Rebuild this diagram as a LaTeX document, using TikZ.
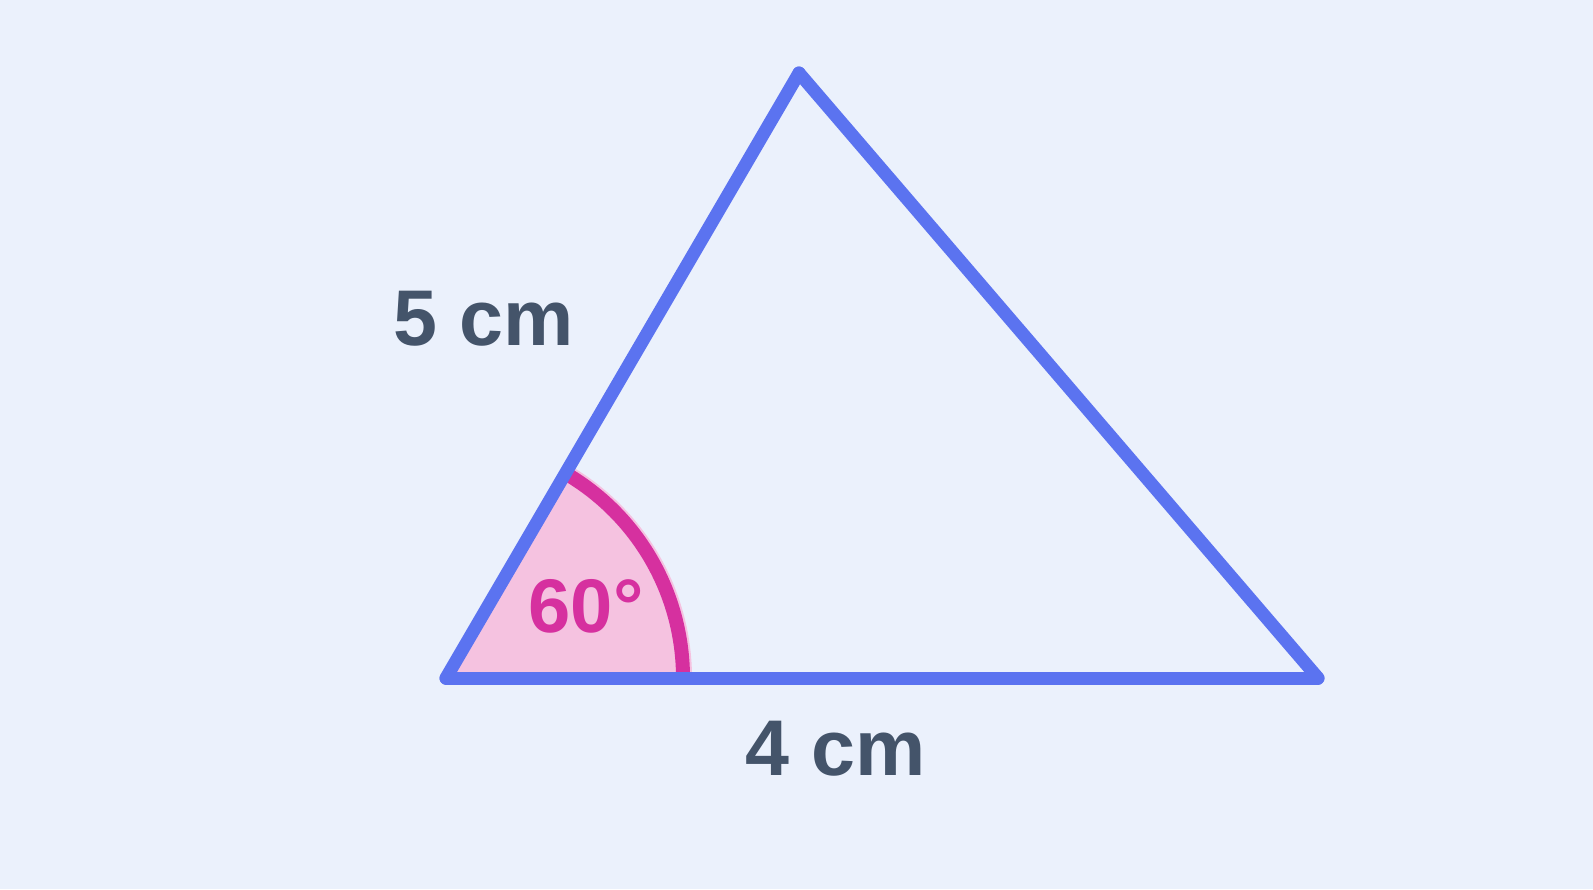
\documentclass[tikz,border=0pt]{standalone}
\usepackage{fontspec}
\setmainfont{Liberation Sans}
\usetikzlibrary{calc}
\definecolor{bg}{HTML}{EBF1FC}
\definecolor{tri}{HTML}{5B73F0}
\definecolor{mag}{HTML}{D6309F}
\definecolor{pinkf}{HTML}{F5C2E0}
\definecolor{txt}{HTML}{44546A}
\begin{document}
\begin{tikzpicture}[x=1pt,y=-1pt,
  side/.style={draw=tri,line width=13pt,line cap=round,line join=round},
  lbl/.style={font=\fontsize{79}{90}\selectfont\bfseries,text=txt,inner sep=0pt},
  anglbl/.style={font=\fontsize{76}{90}\selectfont\bfseries,text=mag,inner sep=0pt}]
\fill[bg] (0,0) rectangle (1593,889);
\useasboundingbox (0,0) rectangle (1593,889);
\coordinate (A) at (446,678);
\coordinate (B) at (1318,678);
\coordinate (C) at (799,73);
% angle wedge
\fill[pinkf] (A) -- ++(0:246) arc[start angle=0,end angle=-59.7,radius=246] -- cycle;
\draw[mag,line width=14pt] ($(A)+(0:237)$) arc[start angle=0,end angle=-59.7,radius=237];
\draw[side] (A) -- (B);
\draw[side] (A) -- (C);
\draw[side] (C) -- (B);
\node[lbl] (l5) at (484,319) {5 cm};
\node[lbl] (l4) at (836,749) {4 cm};
\node[anglbl] (ang) at (586,606) {60°};
\end{tikzpicture}
\end{document}
